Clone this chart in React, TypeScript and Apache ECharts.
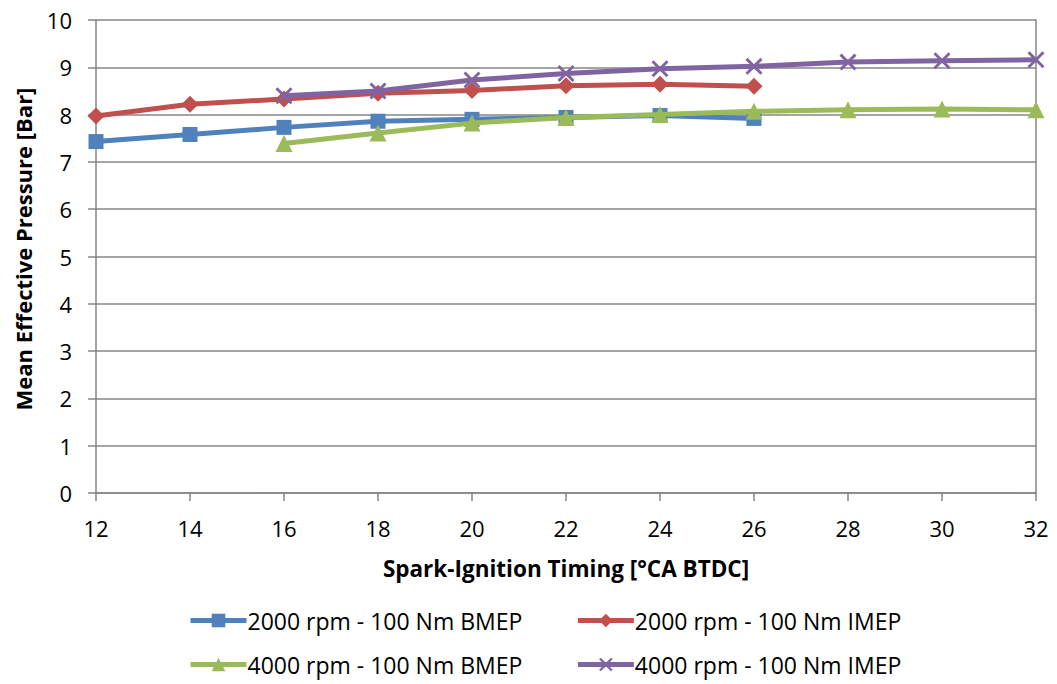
import React, { useEffect, useRef } from "react";
import * as echarts from "echarts";

const timing = [12, 14, 16, 18, 20, 22, 24, 26, 28, 30, 32];
const bmep2000 = [7.43, 7.58, 7.73, 7.86, 7.9, 7.94, 7.98, 7.92, null, null, null];
const imep2000 = [7.97, 8.22, 8.33, 8.45, 8.51, 8.61, 8.64, 8.6, null, null, null];
const bmep4000 = [null, null, 7.39, 7.61, 7.82, 7.94, 8.0, 8.07, 8.1, 8.12, 8.1];
const imep4000 = [null, null, 8.4, 8.5, 8.73, 8.87, 8.97, 9.02, 9.11, 9.14, 9.16];
const seriesNames = [
  "2000 rpm - 100 Nm BMEP",
  "2000 rpm - 100 Nm IMEP",
  "4000 rpm - 100 Nm BMEP",
  "4000 rpm - 100 Nm IMEP",
];
const colors = ["#4F81BD", "#C0504D", "#9BBB59", "#8064A2"];
const FONT = "'Open Sans', Lato, sans-serif";

const xSymbol =
  "path://M0,1.2 L1.2,0 L5,3.8 L8.8,0 L10,1.2 L6.2,5 L10,8.8 L8.8,10 L5,6.2 L1.2,10 L0,8.8 L3.8,5 Z";

function pairs(vals: (number | null)[]) {
  return timing
    .map((t, i) => (vals[i] === null ? null : [t, vals[i]]))
    .filter((p) => p !== null);
}

export default function App() {
  const ref = useRef<HTMLDivElement>(null);
  useEffect(() => {
    if (!ref.current) return;
    const chart = echarts.init(ref.current, null, { renderer: "svg" });
    const symbols = ["rect", "diamond", "triangle", xSymbol];
    const sizes = [15, 17, 17, 17];
    const datas = [bmep2000, imep2000, bmep4000, imep4000];
    const legendText = { fontSize: 23, color: "#000", fontFamily: FONT, padding: [0, 0, 0, -4] };
    const legendCommon = {
      left: 183,
      itemWidth: 56,
      itemHeight: 17,
      itemGap: 53,
      textStyle: legendText,
      lineStyle: { width: 5 },
    };
    chart.setOption({
      animation: false,
      backgroundColor: "#ffffff",
      textStyle: { fontFamily: FONT },
      grid: { left: 96, right: 21, top: 20, bottom: 191, containLabel: false },
      graphic: [
        {
          type: "text",
          x: 23,
          y: 249,
          rotation: Math.PI / 2,
          style: {
            text: "Mean Effective Pressure [Bar]",
            fontSize: 22,
            fontWeight: "bold",
            fontFamily: FONT,
            fill: "#000",
            align: "center",
            verticalAlign: "middle",
          },
        },
      ],
      legend: [
        { ...legendCommon, data: [seriesNames[0], seriesNames[1]], top: 604 },
        { ...legendCommon, data: [seriesNames[2], seriesNames[3]], top: 648 },
      ],
      xAxis: {
        type: "value",
        min: 12,
        max: 32,
        interval: 2,
        name: "Spark-Ignition Timing [°CA BTDC]",
        nameLocation: "middle",
        nameGap: 64,
        nameTextStyle: { fontSize: 22.5, fontWeight: "bold", color: "#000", fontFamily: FONT },
        axisLine: { lineStyle: { color: "#868686", width: 1.5 } },
        axisTick: { show: true, length: 8, lineStyle: { color: "#868686", width: 1.5 } },
        axisLabel: { fontSize: 22, color: "#000", margin: 24, fontFamily: FONT },
        splitLine: { show: false },
      },
      yAxis: [
        {
          type: "value",
          min: 0,
          max: 10,
          interval: 1,
          axisLine: { show: true, lineStyle: { color: "#868686", width: 1.5 } },
          axisTick: { show: true, length: 8, lineStyle: { color: "#868686", width: 1.5 } },
          axisLabel: { fontSize: 22, color: "#000", margin: 24, fontFamily: FONT },
          splitLine: { show: true, lineStyle: { color: "#868686", width: 1.5 } },
        },
        {
          type: "value",
          min: 0,
          max: 10,
          interval: 1,
          position: "right",
          axisLine: { show: true, lineStyle: { color: "#868686", width: 1.5 } },
          axisTick: { show: false },
          axisLabel: { show: false },
          splitLine: { show: false },
        },
      ],
      series: datas.map((d, i) => ({
        name: seriesNames[i],
        type: "line",
        data: pairs(d),
        symbol: symbols[i],
        symbolSize: sizes[i],
        showSymbol: true,
        lineStyle: { color: colors[i], width: 5 },
        itemStyle: { color: colors[i] },
        z: i === 3 ? 5 : 3 + i * 0.1,
      })),
    });
    return () => chart.dispose();
  }, []);
  return <div ref={ref} style={{ width: 1057, height: 684, position: "absolute", left: 0, top: 0 }} />;
}
